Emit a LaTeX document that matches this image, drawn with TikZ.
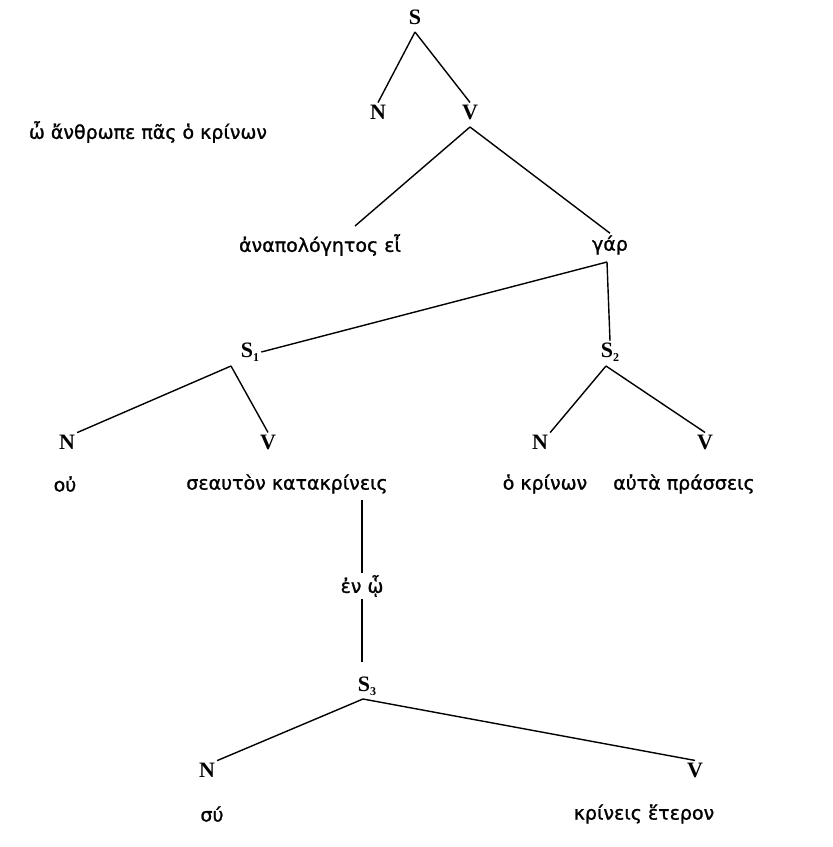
\documentclass[tikz,border=0pt]{standalone}
\usepackage{fontspec}
\setmainfont{Liberation Serif}
\newfontfamily\grk[FakeBold=1.2]{DejaVu Sans}
\begin{document}
\begin{tikzpicture}[x=1pt,y=-1pt,
  cat/.style={font=\fontsize{22}{24}\selectfont\bfseries, inner sep=2pt},
  gk/.style={font=\grk\fontsize{19}{22}\selectfont, inner sep=2pt},
  br/.style={line width=1.4pt}]
\useasboundingbox (0,0) rectangle (833,847);
\newcommand{\sub}[1]{\raisebox{-0.35ex}{\fontsize{12}{12}\selectfont #1}}
% top
\node[cat] (S) at (415,17) {S};
\node[cat] (N0) at (378,112) {N};
\node[cat] (V0) at (470,112) {V};
\node[gk] (w) at (148,132) {ὦ ἄνθρωπε πᾶς ὁ κρίνων};
\node[gk] (ana) at (320,245) {ἀναπολόγητος εἶ};
\node[gk] (gar) at (610,245) {γάρ};
\node[cat] (S1) at (250,352) {S\sub{1}};
\node[cat] (S2) at (610,352) {S\sub{2}};
\node[cat] (N1) at (67,442) {N};
\node[cat] (V1) at (268,442) {V};
\node[cat] (N2) at (540,442) {N};
\node[cat] (V2) at (705,442) {V};
\node[gk] (ou) at (65,484) {οὐ};
\node[gk] (seau) at (287,484) {σεαυτὸν κατακρίνεις};
\node[gk] (ok) at (545,484) {ὁ κρίνων};
\node[gk] (auta) at (684,484) {αὐτὰ πράσσεις};
\node[gk] (en) at (362,586) {ἐν ᾧ};
\node[cat] (S3) at (367,686) {S\sub{3}};
\node[cat] (N3) at (207,770) {N};
\node[cat] (V3) at (695,770) {V};
\node[gk] (su) at (212,814) {σύ};
\node[gk] (kr) at (644,814) {κρίνεις ἕτερον};
% connectors
\coordinate (Sb) at (415,32);
\draw[br] (Sb) -- (N0.north);
\draw[br] (Sb) -- (V0.north);
\coordinate (Vb) at (470,127);
\coordinate (anaTop) at (355,226);
\draw[br] (Vb) -- (anaTop);
\draw[br] (Vb) -- (gar.north);
\coordinate (gb) at (607,262);
\draw[br] (gb) -- (S1.east);
\draw[br] (gb) -- (S2.north);
\coordinate (S1b) at (231,366);
\draw[br] (S1b) -- (N1.north east);
\draw[br] (S1b) -- (V1.north);
\coordinate (S2b) at (606,366);
\draw[br] (S2b) -- (N2.north east);
\draw[br] (S2b) -- (V2.north);
\coordinate (seauB) at (362,500);
\draw[br] (seauB) -- (en.north);
\coordinate (S3t) at (362,662);
\draw[br] (en.south) -- (S3t);
\coordinate (S3b) at (363,699);
\draw[br] (S3b) -- (N3.north east);
\draw[br] (S3b) -- (V3.north);
\end{tikzpicture}
\end{document}
